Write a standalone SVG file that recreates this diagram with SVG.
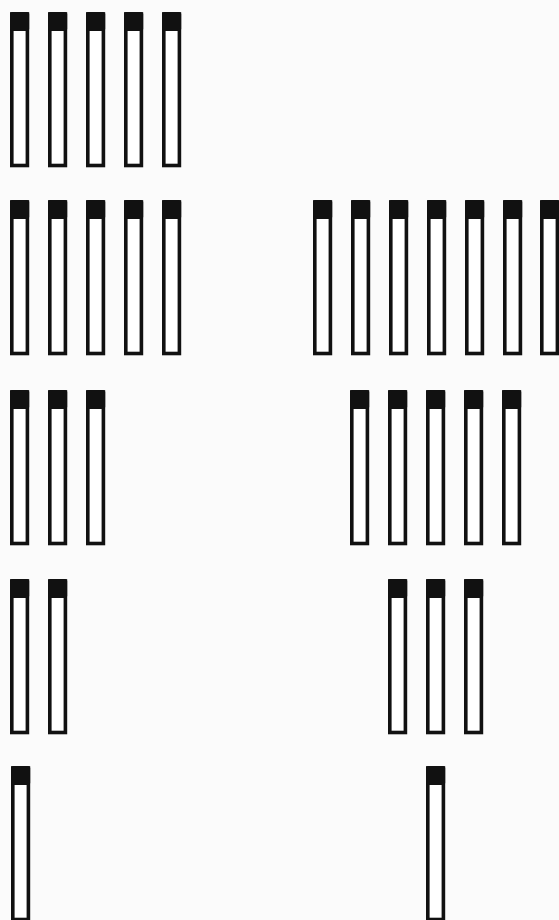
<svg xmlns="http://www.w3.org/2000/svg" xmlns:xlink="http://www.w3.org/1999/xlink" width="559" height="920" viewBox="0 0 559 920">
<style>
.body{fill:#ffffff;stroke:#111;stroke-width:3.6}
.cap{fill:#111}
</style>
<defs>
<g id="tube">
<rect class="body" x="1.8" y="2" width="15.6" height="151.5"/>
<rect class="cap" x="0" y="0" width="19.2" height="19" rx="2"/>
</g>
</defs>
<rect x="0" y="0" width="559" height="920" fill="#fbfbfb"/>
<g id="row1-left">
<use xlink:href="#tube" x="10" y="12"/>
<use xlink:href="#tube" x="48" y="12"/>
<use xlink:href="#tube" x="86" y="12"/>
<use xlink:href="#tube" x="124" y="12"/>
<use xlink:href="#tube" x="162" y="12"/>
</g>
<g id="row2-left">
<use xlink:href="#tube" x="10" y="200"/>
<use xlink:href="#tube" x="48" y="200"/>
<use xlink:href="#tube" x="86" y="200"/>
<use xlink:href="#tube" x="124" y="200"/>
<use xlink:href="#tube" x="162" y="200"/>
</g>
<g id="row2-right">
<use xlink:href="#tube" x="313" y="200"/>
<use xlink:href="#tube" x="351" y="200"/>
<use xlink:href="#tube" x="389" y="200"/>
<use xlink:href="#tube" x="427" y="200"/>
<use xlink:href="#tube" x="465" y="200"/>
<use xlink:href="#tube" x="503" y="200"/>
<use xlink:href="#tube" x="540" y="200"/>
</g>
<g id="row3-left">
<use xlink:href="#tube" x="10" y="390"/>
<use xlink:href="#tube" x="48" y="390"/>
<use xlink:href="#tube" x="86" y="390"/>
</g>
<g id="row3-right">
<use xlink:href="#tube" x="350" y="390"/>
<use xlink:href="#tube" x="388" y="390"/>
<use xlink:href="#tube" x="426" y="390"/>
<use xlink:href="#tube" x="464" y="390"/>
<use xlink:href="#tube" x="502" y="390"/>
</g>
<g id="row4-left">
<use xlink:href="#tube" x="10" y="579"/>
<use xlink:href="#tube" x="48" y="579"/>
</g>
<g id="row4-right">
<use xlink:href="#tube" x="388" y="579"/>
<use xlink:href="#tube" x="426" y="579"/>
<use xlink:href="#tube" x="464" y="579"/>
</g>
<g id="row5-left">
<use xlink:href="#tube" x="11" y="766"/>
</g>
<g id="row5-right">
<use xlink:href="#tube" x="426" y="766"/>
</g>
</svg>
